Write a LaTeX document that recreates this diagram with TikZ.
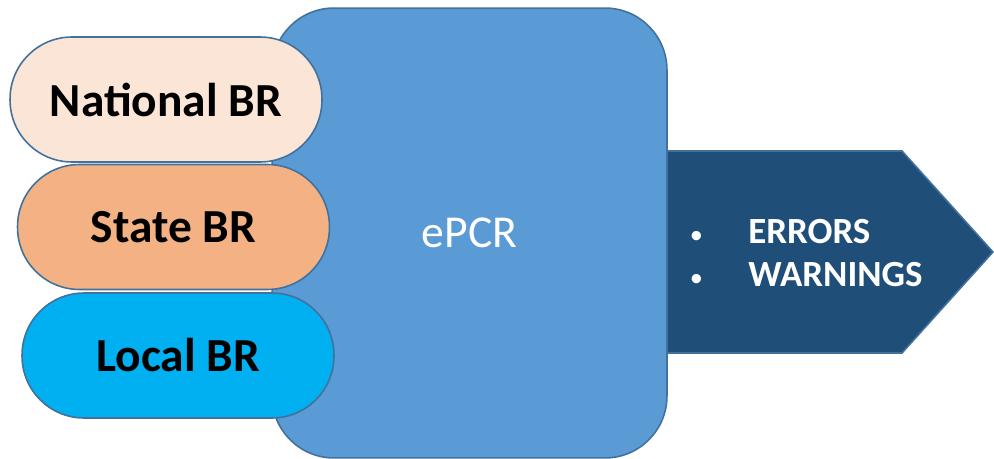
\documentclass[tikz,border=0pt]{standalone}
\usepackage{fontspec}
\setmainfont{Carlito}
\usetikzlibrary{positioning}
\definecolor{edgeblue}{HTML}{41719C}
\definecolor{epcrblue}{HTML}{5B9BD5}
\definecolor{natfill}{HTML}{FBE5D6}
\definecolor{statefill}{HTML}{F4B183}
\definecolor{localfill}{HTML}{00B0F0}
\definecolor{outblue}{HTML}{1F4E79}
\newcommand{\alertitem}[1]{\makebox[1.22cm][l]{\hspace{0.05cm}\mdseries\fontsize{15}{25}\selectfont\textbullet}#1}
\tikzset{
  pill/.style={draw=edgeblue, line width=0.9pt, rounded corners=1.24cm, minimum width=6.24cm,
    minimum height=2.5cm, inner sep=0pt, font=\bfseries\fontsize{27}{32}\selectfont},
}
\begin{document}
\begin{tikzpicture}[x=0.02cm,y=-0.02cm]
      \useasboundingbox (0,0) rectangle (994,459);

      \node[draw=edgeblue, line width=0.9pt, fill=epcrblue, rounded corners=1.24cm, minimum width=7.9cm,
        minimum height=9cm, inner sep=0pt, text=white, font=\fontsize{26}{30}\selectfont] (epcr) at (469.5,233) {ePCR};

      \node[pill, fill=natfill] (national) at (166,99.5) {National BR};
      \node[pill, fill=statefill] (state) at (173.5,227) {State BR};
      \node[pill, fill=localfill] (local) at (178,355.5) {Local BR};

      \draw[draw=edgeblue, line width=0.9pt, fill=outblue] (667,151) -- (902,151) -- (993,252) -- (902,353) -- (667,353) -- cycle;
      \node[anchor=west, align=left, inner sep=0pt, text=white, font=\bfseries\fontsize{21}{25}\selectfont] (alerts) at (687,253)
        {\alertitem{ERRORS}\\\alertitem{WARNINGS}};
\end{tikzpicture}
\end{document}
